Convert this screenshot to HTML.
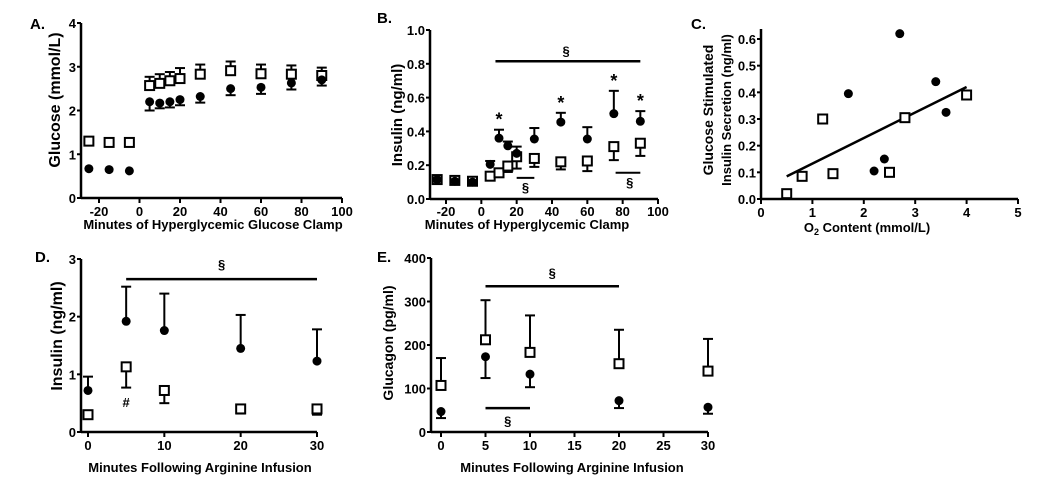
<!DOCTYPE html>
<html><head><meta charset="utf-8"><style>
body{margin:0;background:#fff;width:1050px;height:482px;overflow:hidden}
svg{display:block;font-family:"Liberation Sans",Arial,sans-serif;font-weight:bold}
</style></head><body>
<svg id="fig" width="1050" height="482"></svg>
<script>
// Panel A data
const aX=[-25,-15,-5,5,10,15,20,30,45,60,75,90];
const aSq=[1.3,1.27,1.27,2.57,2.62,2.68,2.73,2.83,2.91,2.84,2.83,2.8];
const aSqErr=[0,0,0,0.2,0.21,0.2,0.24,0.22,0.21,0.21,0.2,0.18];
const aCi=[0.67,0.65,0.62,2.2,2.17,2.2,2.25,2.32,2.5,2.53,2.63,2.7];
const aCiErr=[0,0,0,0.2,0.12,0.13,0.13,0.14,0.15,0.15,0.15,0.13];
// Panel B data
const bX=[-25,-15,-5,5,10,15,20,30,45,60,75,90];
const bSq=[0.115,0.11,0.105,0.135,0.155,0.195,0.25,0.24,0.22,0.225,0.31,0.33];
const bSqErr=[0,0,0,0.015,0.015,0.035,0.07,0.05,0.045,0.06,0.08,0.075];
const bCi=[0.115,0.105,0.1,0.205,0.36,0.315,0.27,0.355,0.455,0.355,0.505,0.46];
const bCiErr=[0,0,0,0.02,0.05,0.025,0.04,0.065,0.055,0.07,0.135,0.06];
const bStars=[10,45,75,90];
// Panel C data
const cCiX=[1.7,2.2,2.4,2.7,3.4,3.6];
const cCiY=[0.395,0.105,0.15,0.62,0.44,0.325];
const cSqX=[0.5,0.8,1.2,1.4,2.5,2.8,4.0];
const cSqY=[0.02,0.085,0.3,0.095,0.1,0.305,0.39];
const cFitX=[0.5,4.0];
const cFitY=[0.085,0.42];
// Panel D data
const dX=[0,5,10,20,30];
const dCi=[0.72,1.92,1.76,1.45,1.23];
const dCiErr=[0.24,0.6,0.64,0.58,0.55];
const dSq=[0.3,1.13,0.72,0.4,0.4];
const dSqErr=[0.02,0.36,0.22,0.08,0.1];
// Panel E data
const eX=[0,5,10,20,30];
const eSq=[107,212,183,157,140];
const eSqErr=[63,91,85,78,74];
const eCi=[47,173,133,72,57];
const eCiErr=[15,49,30,17,15];

const svg=document.getElementById('fig');
const NS='http://www.w3.org/2000/svg';
function mk(tag,attrs,name,parent){
  const e=document.createElementNS(NS,tag);
  for(const k in attrs)e.setAttribute(k,attrs[k]);
  
  
  (parent||svg).appendChild(e);return e;
}
function txt(x,y,s,size,anchor,name,rot){
  const t=mk('text',{x:x,y:y,'font-size':size,'text-anchor':anchor||'middle',fill:'#000'},name);
  if(rot)t.setAttribute('transform','rotate(-90 '+x+' '+y+')');
  t.textContent=s;return t;
}
function line(x1,y1,x2,y2,w,name){return mk('line',{x1:x1,y1:y1,x2:x2,y2:y2,stroke:'#000','stroke-width':w||2},name);}
function axes(P,xticks,yticks,xlab,ylabs,letter){
  line(P.x0,P.y0,P.x1,P.y0,2.5,'x-axis');
  line(P.x0,P.y0+1,P.x0,P.yTop,2.5,'y-axis');
  xticks.forEach(v=>{const x=P.sx(v);line(x,P.y0,x,P.y0+5,2,'x-tick');txt(x,P.y0+P.tkOff,(v<0?'-'+Math.abs(v):String(v)),13,'middle','x-tick-label');});
  yticks.forEach(v=>{const y=P.sy(v);line(P.x0-4,y,P.x0,y,2,'y-tick');txt(P.x0-5,y+5,P.fmt?P.fmt(v):String(v),13,'end','y-tick-label');});
  if(xlab)txt(P.xlx,P.xly,xlab,13,'middle','x-axis-title');
  ylabs.forEach(l=>txt(l[0],l[1],l[2],l[3]||14,'middle','y-axis-title',true));
  txt(letter[0],letter[1],letter[2],15,'start','panel-label');
}
function circ(x,y){mk('circle',{cx:x,cy:y,r:4.5,fill:'#000'},'circle-point');}
function sq(x,y){mk('rect',{x:x-4.5,y:y-4.5,width:9,height:9,fill:'#fff',stroke:'#000','stroke-width':2},'square-point');}
function err(x,y1,y2){line(x,y1,x,y2,2,'error-bar');line(x-5,y2,x+5,y2,2,'error-cap');}
function panel(sx0,sx1,vx0,vx1,sy0,sy1,vy0,vy1,extra){
  const P={tkOff:19,sx:v=>sx0+(v-vx0)*(sx1-sx0)/(vx1-vx0),sy:v=>sy0+(v-vy0)*(sy1-sy0)/(vy1-vy0)};
  return Object.assign(P,extra);
}
// ---- Panel A
const A=panel(99,342,-20,100,198,23,0,4,{x0:81,x1:342,y0:198,yTop:23,xlx:213,xly:229,tkOff:18});
axes(A,[-20,0,20,40,60,80,100],[0,1,2,3,4],'Minutes of Hyperglycemic Glucose Clamp',[[60,100,'Glucose (mmol/L)',16]],[30,29,'A.']);
aX.forEach((v,i)=>{const x=A.sx(v);
  if(aSqErr[i])err(x,A.sy(aSq[i]),A.sy(aSq[i]+aSqErr[i]));
  if(aCiErr[i])err(x,A.sy(aCi[i]),A.sy(aCi[i]-aCiErr[i]));
  sq(x,A.sy(aSq[i]));circ(x,A.sy(aCi[i]));});
// ---- Panel B
const B=panel(446,658,-20,100,199,30,0,1,{x0:430,x1:658,y0:199,yTop:30,xlx:527,xly:229,tkOff:17,fmt:v=>v.toFixed(1)});
axes(B,[-20,0,20,40,60,80,100],[0,0.2,0.4,0.6,0.8,1.0],'Minutes of Hyperglycemic Clamp',[[402,115,'Insulin (ng/ml)',15]],[377,23,'B.']);
bX.forEach((v,i)=>{const x=B.sx(v);
  if(bSqErr[i])err(x,B.sy(bSq[i]),B.sy(bSq[i]-bSqErr[i]));
  if(bCiErr[i])err(x,B.sy(bCi[i]),B.sy(bCi[i]+bCiErr[i]));
  sq(x,B.sy(bSq[i]));circ(x,B.sy(bCi[i]));});
bStars.forEach(v=>{const i=bX.indexOf(v);txt(B.sx(v),B.sy(bCi[i]+bCiErr[i])-4,'*',18,'middle','significance-star');});
line(B.sx(8),B.sy(0.815),B.sx(90),B.sy(0.815),2.5,'significance-bar');
txt(B.sx(48),B.sy(0.85),'§',13,'middle','significance-symbol');
line(B.sx(20),B.sy(0.125),B.sx(30),B.sy(0.125),2,'significance-bar');
txt(B.sx(25),B.sy(0.04),'§',13,'middle','significance-symbol');
line(B.sx(76),B.sy(0.155),B.sx(90),B.sy(0.155),2,'significance-bar');
txt(B.sx(84),B.sy(0.07),'§',13,'middle','significance-symbol');
// ---- Panel C
const C=panel(761,1018,0,5,199,39,0,0.6,{x0:761,x1:1018,y0:199,yTop:29,xlx:867,xly:230,tkOff:18,fmt:v=>v.toFixed(1)});
axes(C,[0,1,2,3,4,5],[0,0.1,0.2,0.3,0.4,0.5,0.6],'',[[713,110,'Glucose Stimulated'],[731,110,'Insulin  Secretion (ng/ml)',13]],[691,29,'C.']);
{const t=txt(867,232,'',13,'middle','x-axis-title');t.innerHTML='O<tspan font-size="9" dy="3">2</tspan><tspan dy="-3"> Content (mmol/L)</tspan>';}
line(C.sx(cFitX[0]),C.sy(cFitY[0]),C.sx(cFitX[1]),C.sy(cFitY[1]),2.5,'regression-line');
cCiX.forEach((v,i)=>circ(C.sx(v),C.sy(cCiY[i])));
cSqX.forEach((v,i)=>sq(C.sx(v),C.sy(cSqY[i])));
// ---- Panel D
const D=panel(88,317,0,30,432,259,0,3,{x0:81,x1:317,y0:432,yTop:259,xlx:200,xly:472,tkOff:18});
axes(D,[0,10,20,30],[0,1,2,3],'Minutes Following Arginine Infusion',[[62,336,'Insulin (ng/ml)',16]],[35,262,'D.']);
dX.forEach((v,i)=>{const x=D.sx(v);
  err(x,D.sy(dCi[i]),D.sy(dCi[i]+dCiErr[i]));
  err(x,D.sy(dSq[i]),D.sy(dSq[i]-dSqErr[i]));
  sq(x,D.sy(dSq[i]));circ(x,D.sy(dCi[i]));});
line(D.sx(5),D.sy(2.65),D.sx(30),D.sy(2.65),2.5,'significance-bar');
txt(D.sx(17.5),D.sy(2.83),'§',13,'middle','significance-symbol');
txt(D.sx(5),D.sy(0.43),'#',13,'middle','significance-hash');
// ---- Panel E
const E=panel(441,708,0,30,432,258,0,400,{x0:431,x1:708,y0:432,yTop:258,xlx:572,xly:472,tkOff:18});
axes(E,[0,5,10,15,20,25,30],[0,100,200,300,400],'Minutes Following  Arginine Infusion',[[393,343,'Glucagon (pg/ml)',14]],[377,262,'E.']);
eX.forEach((v,i)=>{const x=E.sx(v);
  err(x,E.sy(eSq[i]),E.sy(eSq[i]+eSqErr[i]));
  err(x,E.sy(eCi[i]),E.sy(eCi[i]-eCiErr[i]));
  sq(x,E.sy(eSq[i]));circ(x,E.sy(eCi[i]));});
line(E.sx(5),E.sy(335),E.sx(20),E.sy(335),2.5,'significance-bar');
txt(E.sx(12.5),E.sy(355),'§',13,'middle','significance-symbol');
line(E.sx(5),E.sy(55),E.sx(10),E.sy(55),2.5,'significance-bar');
txt(E.sx(7.5),E.sy(15),'§',13,'middle','significance-symbol');
</script>
</body></html>
